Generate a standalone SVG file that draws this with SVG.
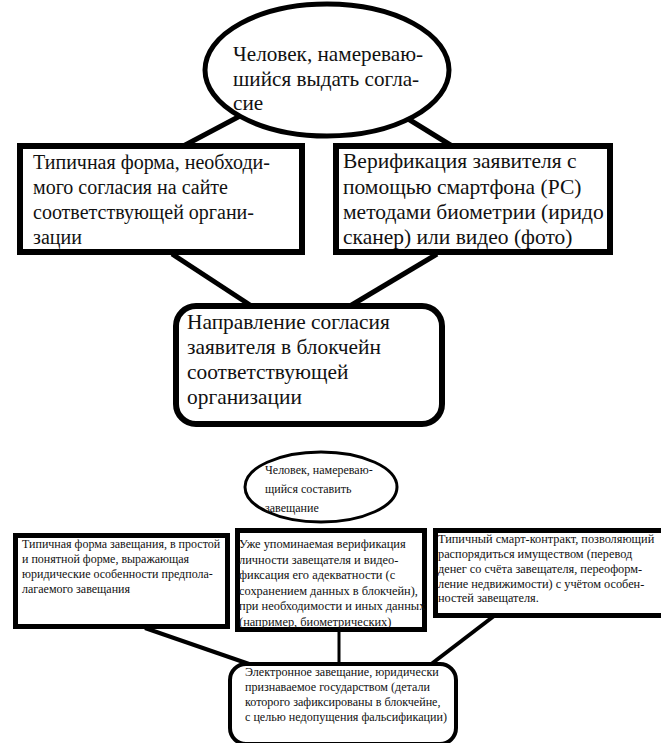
<svg xmlns="http://www.w3.org/2000/svg" width="661" height="743" viewBox="0 0 661 743">
<style>
text{font-family:"Liberation Serif","Times New Roman","DejaVu Serif",serif;fill:#111}
.n{fill:#fff;stroke:#000}
.c{stroke:#000;fill:none}
</style>
<rect width="661" height="743" fill="#fff"/>
<g id="connectors">
<line class="c" x1="240" y1="116" x2="172" y2="152" stroke-width="5"/>
<line class="c" x1="405" y1="117" x2="452" y2="146" stroke-width="5"/>
<line class="c" x1="172" y1="254" x2="250" y2="305" stroke-width="5"/>
<line class="c" x1="437" y1="254" x2="350" y2="306" stroke-width="5"/>
<line class="c" x1="145" y1="628" x2="252" y2="665" stroke-width="4"/>
<line class="c" x1="339" y1="631" x2="339" y2="664" stroke-width="3"/>
<line class="c" x1="494" y1="616" x2="430" y2="665" stroke-width="4"/>
</g>
<g id="n1">
<ellipse class="n" cx="327" cy="70" rx="122" ry="66" stroke-width="5"/>
<text font-size="21.2"><tspan x="233" y="61">Человек, намереваю-</tspan><tspan x="233" y="86">шийся выдать согла-</tspan><tspan x="233" y="110">сие</tspan></text>
</g>
<g id="n2">
<rect class="n" x="20" y="146" width="282" height="106" stroke-width="6"/>
<text font-size="20"><tspan x="33" y="169">Типичная форма, необходи-</tspan><tspan x="33" y="194">мого согласия на сайте</tspan><tspan x="33" y="219">соответствующей органи-</tspan><tspan x="33" y="244">зации</tspan></text>
</g>
<g id="n3">
<rect class="n" x="336" y="146" width="274" height="106" stroke-width="6"/>
<text font-size="21.5"><tspan x="343" y="168">Верификация заявителя с</tspan><tspan x="343" y="194">помощью смартфона (РС)</tspan><tspan x="343" y="219">методами биометрии (иридо</tspan><tspan x="343" y="244">сканер) или видео (фото)</tspan></text>
</g>
<g id="n4">
<rect class="n" x="176" y="306" width="266" height="118" rx="20" stroke-width="6"/>
<text font-size="21.4"><tspan x="187" y="329">Направление согласия</tspan><tspan x="187" y="354">заявителя в блокчейн</tspan><tspan x="187" y="379">соответствующей</tspan><tspan x="187" y="404">организации</tspan></text>
</g>
<g id="n5">
<ellipse class="n" cx="321" cy="487" rx="76" ry="35" stroke-width="3"/>
<text font-size="12"><tspan x="265" y="474">Человек, намереваю-</tspan><tspan x="265" y="493">щийся составить</tspan><tspan x="265" y="512">завещание</tspan></text>
</g>
<g id="n6">
<rect class="n" x="15.5" y="535.5" width="212" height="91" stroke-width="5"/>
<text font-size="12"><tspan x="22" y="548">Типичная форма завещания, в простой</tspan><tspan x="22" y="563">и понятной форме, выражающая</tspan><tspan x="22" y="578">юридические особенности предпола-</tspan><tspan x="22" y="593">лагаемого завещания</tspan></text>
</g>
<g id="n7">
<rect class="n" x="237.5" y="530.5" width="187" height="99" stroke-width="5"/>
<text font-size="12.4"><tspan x="239" y="548">Уже упоминаемая верификация</tspan><tspan x="239" y="563.5">личности завещателя и видео-</tspan><tspan x="239" y="579">фиксация его адекватности (с</tspan><tspan x="239" y="594.5">сохранением данных в блокчейн),</tspan><tspan x="239" y="610">при необходимости и иных данных</tspan><tspan x="239" y="625.5">(например, биометрических)</tspan></text>
</g>
<g id="n8">
<rect class="n" x="435.5" y="530.5" width="232" height="85" stroke-width="5"/>
<text font-size="12.3"><tspan x="438" y="543">Типичный смарт-контракт, позволяющий</tspan><tspan x="438" y="558">распорядиться имуществом (перевод</tspan><tspan x="438" y="573">денег со счёта завещателя, переоформ-</tspan><tspan x="438" y="588">ление недвижимости) с учётом особен-</tspan><tspan x="438" y="602">ностей завещателя.</tspan></text>
</g>
<g id="n9">
<rect class="n" x="230" y="664" width="226" height="80" rx="16" stroke-width="4"/>
<text font-size="12.1"><tspan x="245" y="676">Электронное завещание, юридически</tspan><tspan x="245" y="691">признаваемое государством (детали</tspan><tspan x="245" y="706">которого зафиксированы в блокчейне,</tspan><tspan x="245" y="721">с целью недопущения фальсификации)</tspan></text>
</g>
</svg>
